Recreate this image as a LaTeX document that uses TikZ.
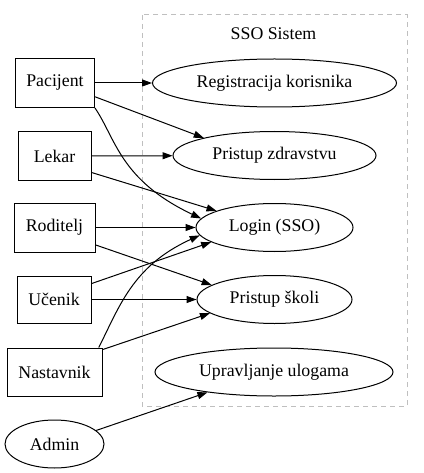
\documentclass[tikz,border=0pt]{standalone}
\usepackage{fontspec}
\setmainfont{Liberation Serif}
\usetikzlibrary{arrows.meta,shapes.geometric}
\begin{document}
\begin{tikzpicture}[x=1pt,y=-1pt,
  every node/.style={font=\fontsize{17.8}{20}\selectfont},
  actor/.style={draw, line width=1pt, rectangle, inner sep=0pt, minimum height=48pt},
  usecase/.style={draw, line width=1pt, ellipse, inner sep=0pt, minimum height=48pt},
  link/.style={line width=1pt, -{Triangle[length=10pt,width=7pt]}},
  cluster/.style={draw=black!25, line width=1pt, dash pattern=on 5pt off 4pt}
]
\useasboundingbox (0,0) rectangle (423,473);
% cluster
\draw[cluster] (142,15) rectangle (407,406);
\node (title) at (273.5,34) {SSO Sistem};
% use cases
\node[usecase, minimum width=244pt] (reg) at (274.5,83) {Registracija korisnika};
\node[usecase, minimum width=203pt] (pz) at (274.5,155.5) {Pristup zdravstvu};
\node[usecase, minimum width=157pt] (login) at (274.5,227.5) {Login (SSO)};
\node[usecase, minimum width=155pt] (ps) at (274.5,299.5) {Pristup školi};
\node[usecase, minimum width=238pt] (uu) at (274,372) {Upravljanje ulogama};
% actors
\node[actor, minimum width=79pt, minimum height=49pt] (pac) at (55,83) {Pacijent};
\node[actor, minimum width=73pt] (lek) at (54.5,156) {Lekar};
\node[actor, minimum width=81pt, minimum height=49pt] (rod) at (54.5,227.5) {Roditelj};
\node[actor, minimum width=74pt, minimum height=47pt] (uce) at (54,299.5) {Učenik};
\node[actor, minimum width=95pt] (nas) at (54.5,372) {Nastavnik};
\node[usecase, minimum width=99pt] (adm) at (54.5,444) {Admin};
% edges
\draw[link] (pac) -- (reg);
\draw[link] (pac.-19) -- (pz.166);
\draw[link] (pac.south east) .. controls (116,139) and (120,180) .. (login.173);
\draw[link] (lek) -- (pz);
\draw[link] (lek.-24) -- (login.164);
\draw[link] (rod) -- (login);
\draw[link] (rod.-23) -- (ps.167);
\draw[link] (uce.23) -- (login.193);
\draw[link] (uce) -- (ps);
\draw[link] (nas.29.5) .. controls (119,308) and (132,266) .. (login.186);
\draw[link] (nas.25) -- (ps.192.5);
\draw[link] (adm.18) -- (uu.197.4);
\end{tikzpicture}
\end{document}
